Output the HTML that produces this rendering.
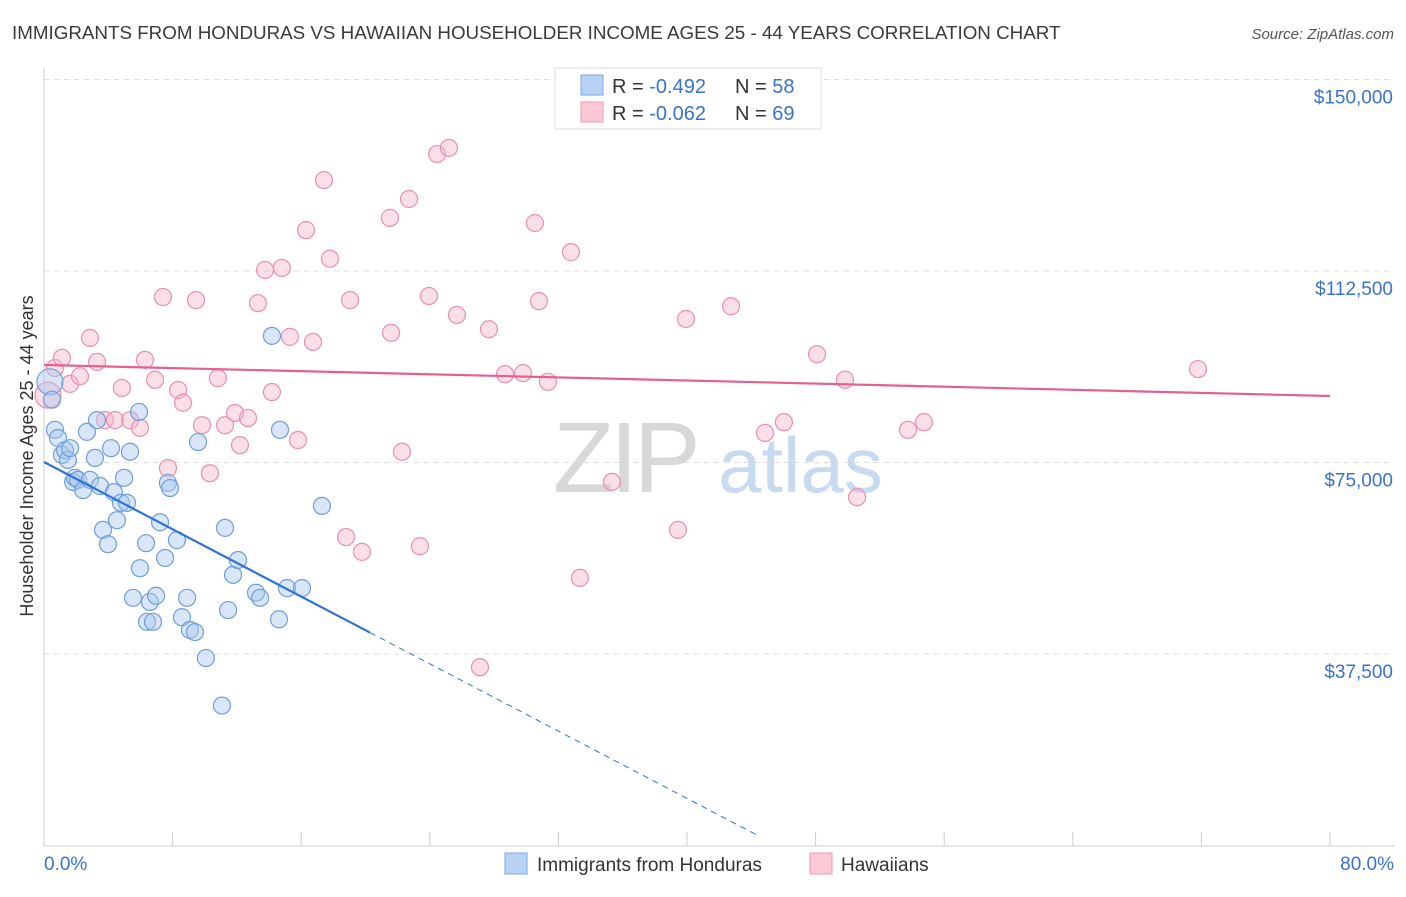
<!DOCTYPE html>
<html><head><meta charset="utf-8"><style>
body{margin:0;background:#fff;font-family:"Liberation Sans",sans-serif;}
svg text{font-family:"Liberation Sans",sans-serif;}
</style></head><body>
<svg id="chart" width="1406" height="892" viewBox="0 0 1406 892" xmlns="http://www.w3.org/2000/svg">
<text x="12" y="39" font-size="18.8" fill="#3a3a3a">IMMIGRANTS FROM HONDURAS VS HAWAIIAN HOUSEHOLDER INCOME AGES 25 - 44 YEARS CORRELATION CHART</text>
<text x="1394" y="39" font-size="15" fill="#555" text-anchor="end" font-style="italic">Source: ZipAtlas.com</text>
<g>
<text x="553" y="492" font-size="100" fill="#d8d8d8" font-family="Liberation Serif" letter-spacing="-4">ZIP</text>
<text x="718" y="492" font-size="78" fill="#c8daf0">atlas</text>
</g>
<g id="grid"></g>
<g id="axes"></g>
<g id="marks"></g>
<text transform="translate(33,456) rotate(-90)" font-size="18" fill="#333" text-anchor="middle">Householder Income Ages 25 - 44 years</text>
<g>
<rect x="555" y="68" width="266" height="61" fill="#fff" stroke="#ddd"/>
<rect x="581" y="75" width="22" height="20" fill="#b8d2f4" stroke="#7aa6e0"/>
<rect x="581" y="102" width="22" height="20" fill="#fbc8d6" stroke="#ec9ab5"/>
<text x="612" y="93" font-size="20" fill="#333">R = <tspan fill="#3a72cf">-0.492</tspan></text>
<text x="735" y="93" font-size="20" fill="#333">N = <tspan fill="#3a72cf">58</tspan></text>
<text x="612" y="120" font-size="20" fill="#333">R = <tspan fill="#3a72cf">-0.062</tspan></text>
<text x="735" y="120" font-size="20" fill="#333">N = <tspan fill="#3a72cf">69</tspan></text>
</g>
<g>
<rect x="505" y="853" width="22" height="21" fill="#b8d2f4" stroke="#7aa6e0"/>
<text x="537" y="871" font-size="19" fill="#333">Immigrants from Honduras</text>
<rect x="810" y="853" width="22" height="21" fill="#fbc8d6" stroke="#ec9ab5"/>
<text x="841" y="871" font-size="19" fill="#333">Hawaiians</text>
</g>
</svg>
<script>
const yTicks=[37500,75000,112500,150000];
const yTickLabels=["$37,500","$75,000","$112,500","$150,000"];
const xTickLabels=["0.0%","80.0%"];
const blueX=[0.37,0.50,0.68,0.87,1.12,1.31,1.49,1.62,1.81,1.93,2.12,2.43,2.67,2.86,3.17,3.30,3.48,3.67,3.98,4.17,4.35,4.54,4.79,4.98,5.16,5.35,5.54,5.91,5.97,6.35,6.41,6.59,6.78,6.97,7.22,7.53,7.71,7.84,8.27,8.58,8.90,9.08,9.39,9.58,10.07,11.07,11.26,11.45,11.76,12.07,13.19,13.44,14.18,14.62,14.68,15.12,16.05,17.29];
const blueY=[90.8,87.3,81.4,79.8,76.5,77.4,75.5,77.8,71.2,72.0,71.6,69.6,81.0,71.6,75.9,83.3,70.4,61.8,59.0,77.8,69.2,63.7,67.1,72.0,67.1,77.1,48.5,84.9,54.3,59.2,43.8,47.7,43.8,48.9,63.3,56.3,71.0,70.0,59.8,44.7,48.5,42.2,41.8,79.0,36.7,27.4,62.2,46.1,53.0,55.9,49.5,48.5,99.8,44.3,81.4,50.4,50.4,66.5];
const pinkX=[0.25,0.68,1.12,1.62,2.24,2.86,3.30,3.79,4.42,4.85,5.35,5.97,6.28,6.91,7.40,7.71,8.34,8.65,9.46,9.83,10.32,10.82,11.26,11.88,12.19,12.69,13.31,13.75,14.18,14.80,15.30,15.80,16.30,16.73,17.42,17.79,18.79,19.04,19.78,21.52,21.59,22.27,22.71,23.39,23.95,24.45,25.19,25.69,27.12,27.68,28.68,29.80,30.54,30.79,31.35,32.78,33.34,35.33,39.44,39.94,42.74,44.85,46.03,48.09,49.83,50.58,53.75,54.74,71.79];
const pinkY=[88.2,93.5,95.5,90.4,91.9,99.4,94.7,83.3,83.3,89.6,83.3,81.8,95.1,91.2,107.4,73.9,89.2,86.7,106.8,82.3,72.9,91.5,82.3,84.7,78.4,83.7,106.2,112.7,88.8,113.1,99.6,79.4,120.5,98.6,130.3,114.9,60.4,106.8,57.5,122.9,100.4,77.1,126.6,58.6,107.6,135.4,136.6,103.9,34.9,101.1,92.3,92.5,121.9,106.6,90.8,116.2,52.4,71.2,61.8,103.1,105.6,80.8,82.9,96.2,91.2,68.2,81.4,82.9,93.3];
const blueTrend=[75.1,-1.647];
const pinkTrend=[94.1,-0.076];
const NS="http://www.w3.org/2000/svg";
const X=p=>44+p*16.075;
const Y=v=>845.5-v*191.5/37500;
function mk(t,a,parent){const e=document.createElementNS(NS,t);for(const k in a)e.setAttribute(k,a[k]);document.getElementById(parent).appendChild(e);return e;}
yTicks.forEach((t,i)=>{
 const g=mk('line',{x1:44,x2:1394,y1:Y(t),y2:Y(t),stroke:'#ddd','stroke-dasharray':'5,5'},'grid');
 
 
 const l=mk('text',{x:1393,y:Y(t)+24,'font-size':19,fill:'#3a72cf','text-anchor':'end'},'axes');l.textContent=yTickLabels[i];
 
 
});
const ya=mk('line',{x1:44,x2:44,y1:68,y2:846,stroke:'#ccc'},'axes');


const xa=mk('line',{x1:44,x2:1394,y1:846,y2:846,stroke:'#ccc'},'axes');


for(let i=0;i<=10;i++){const t=mk('line',{x1:X(i*8),x2:X(i*8),y1:832,y2:846,stroke:'#ccc'},'axes');
 
 }
[[0,'start',44],[80,'end',1394]].forEach((d,i)=>{const l=mk('text',{x:d[2],y:870,'font-size':19,fill:'#3a72cf','text-anchor':d[1]},'axes');l.textContent=xTickLabels[i];
 
 });
function dots(xs,ys,fill,stroke,name){xs.forEach((x,i)=>{const c=mk('circle',{cx:X(x),cy:Y(ys[i]*1000),r:i==0?13:8.5,fill:fill,'fill-opacity':0.45,stroke:stroke,'stroke-width':1.2},'marks');
 
 });}
dots(pinkX,pinkY,'#f5b8cb','#e890ad','hawaiians-point');
dots(blueX,blueY,'#a9c8ee','#6f9edc','honduras-point');
const bEnd=20.28, bDash=44.5;
const b1=mk('line',{x1:X(0),y1:Y(blueTrend[0]*1000),x2:X(bEnd),y2:Y((blueTrend[0]+blueTrend[1]*bEnd)*1000),stroke:'#2f72d8','stroke-width':2.2},'marks');


const b2=mk('line',{x1:X(bEnd),y1:Y((blueTrend[0]+blueTrend[1]*bEnd)*1000),x2:X(bDash),y2:Y((blueTrend[0]+blueTrend[1]*bDash)*1000),stroke:'#2f72d8','stroke-width':1,'stroke-dasharray':'6,5'},'marks');


const p1=mk('line',{x1:X(0),y1:Y(pinkTrend[0]*1000),x2:X(80),y2:Y((pinkTrend[0]+pinkTrend[1]*80)*1000),stroke:'#e5608c','stroke-width':2.2},'marks');


</script>
</body></html>
